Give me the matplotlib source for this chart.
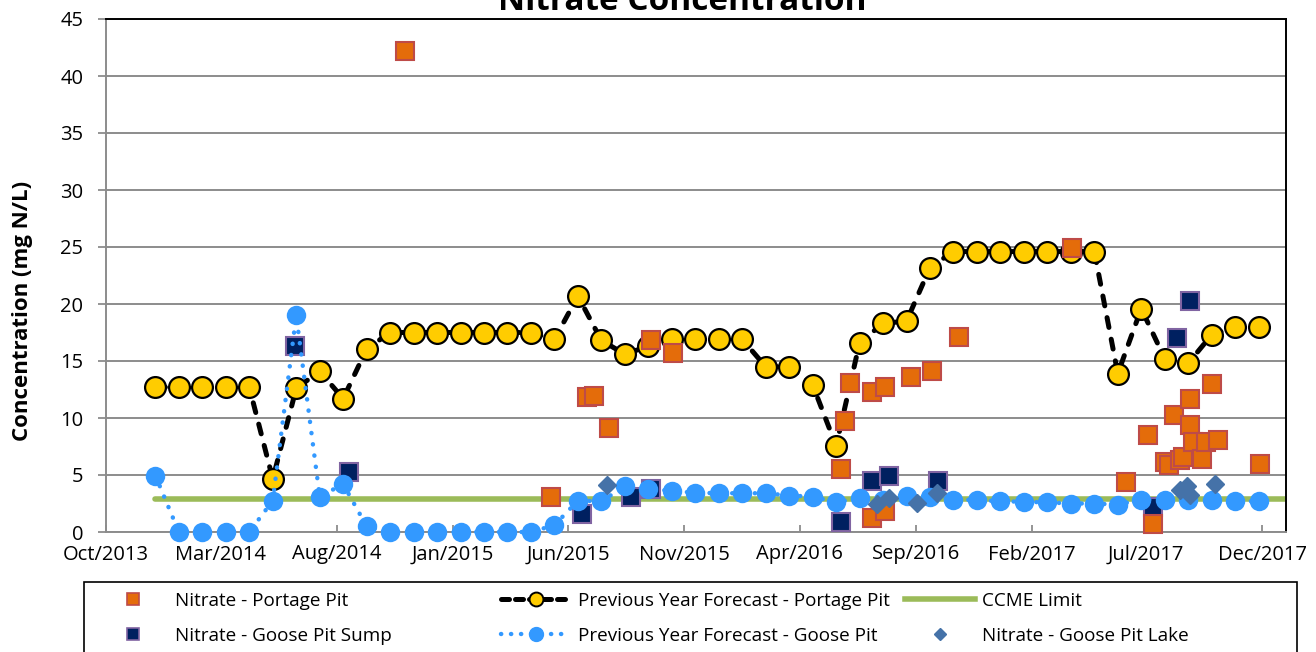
import matplotlib
matplotlib.use("Agg")
import matplotlib.pyplot as plt
import matplotlib.dates as mdates
from matplotlib.lines import Line2D
from matplotlib.patches import Rectangle
import pandas as pd

plt.rcParams['font.family'] = ['Open Sans', 'DejaVu Sans']

# previous year forecasts (evenly spaced runs)
forecast_dates = pd.date_range("2013-12-05", "2017-11-26", periods=48)
forecast_portage = [12.7, 12.7, 12.7, 12.7, 12.7, 4.65, 12.6, 14.1, 11.7, 16.05,
                    17.5, 17.5, 17.5, 17.5, 17.5, 17.5, 17.5, 16.9, 20.7, 16.8,
                    15.6, 16.3, 16.9, 16.9, 16.9, 16.9, 14.5, 14.5, 12.9, 7.55,
                    16.6, 18.3, 18.5, 23.2, 24.6, 24.6, 24.6, 24.6, 24.6, 24.6,
                    24.6, 13.9, 19.6, 15.2, 14.8, 17.3, 18.0, 18.0]
forecast_goose = [4.95, 0, 0, 0, 0, 2.75, 19.0, 3.1, 4.2, 0.5,
                  0, 0, 0, 0, 0, 0, 0, 0.6, 2.75, 2.7,
                  4.0, 3.8, 3.6, 3.45, 3.4, 3.4, 3.4, 3.2, 3.1, 2.6,
                  3.0, 2.8, 3.15, 3.1, 2.85, 2.8, 2.7, 2.65, 2.6, 2.5,
                  2.5, 2.4, 2.85, 2.8, 2.8, 2.8, 2.7, 2.7]

ccme_dates = [forecast_dates[0], pd.Timestamp("2018-01-01")]
ccme_vals = [2.9, 2.9]

portage_dates = pd.to_datetime([
    "2014-10-30", "2015-05-10", "2015-06-26", "2015-07-05", "2015-07-25", "2015-09-18",
    "2015-10-17", "2016-05-25", "2016-05-31", "2016-06-06", "2016-07-05", "2016-07-05",
    "2016-07-22", "2016-07-22", "2016-08-25", "2016-09-22", "2016-10-28", "2017-03-26",
    "2017-06-04", "2017-07-03", "2017-07-10", "2017-07-26", "2017-07-31", "2017-08-07",
    "2017-08-15", "2017-08-19", "2017-08-28", "2017-08-28", "2017-09-01", "2017-09-12",
    "2017-09-18", "2017-09-26", "2017-10-03", "2017-11-28"])
portage_vals = [42.2, 3.1, 11.8, 11.9, 9.1, 16.8,
                15.7, 5.5, 9.75, 13.05, 1.25, 12.3,
                12.7, 1.8, 13.6, 14.1, 17.1, 24.9,
                4.4, 8.5, 0.7, 6.1, 5.9, 10.3,
                6.3, 6.6, 11.7, 9.4, 7.9, 6.4,
                7.9, 13.0, 8.1, 6.0]

sump_dates = pd.to_datetime([
    "2014-06-07", "2014-08-17", "2015-06-19", "2015-08-23", "2015-09-18", "2016-05-25",
    "2016-07-05", "2016-07-27", "2016-09-30", "2017-07-10", "2017-08-10", "2017-08-28"])
sump_vals = [16.3, 5.3, 1.6, 3.1, 3.8, 0.85, 4.5, 4.9, 4.5, 2.2, 17.0, 20.3]

lake_dates = pd.to_datetime([
    "2015-07-22", "2016-07-12", "2016-07-27", "2016-09-02", "2016-09-29",
    "2017-08-15", "2017-08-24", "2017-08-28", "2017-09-29"])
lake_vals = [4.1, 2.5, 2.95, 2.55, 3.45, 3.7, 4.0, 3.25, 4.25]

tick_dates = pd.date_range("2013-10-01", "2017-12-01", freq="5MS")

ORANGE, ORANGE_EDGE = '#E46C0A', '#BE4B48'
NAVY, NAVY_EDGE = '#002060', '#8064A2'
BLUE = '#3399FF'
YELLOW = '#FFCC00'
GREEN = '#9BBB59'
LAKE = '#4572A8'
GRID = '#8C8C8C'

fig = plt.figure(figsize=(13.16, 6.52), dpi=100)
W, H = 1316, 652
ax = fig.add_axes([106 / W, 1 - 532 / H, 1180 / W, 513 / H])

ax.plot(ccme_dates, ccme_vals, color=GREEN, lw=4, solid_capstyle='round', zorder=2)
ax.plot(forecast_dates, forecast_portage, color='black', lw=3.6, dashes=(2.0, 2.4),
        dash_capstyle='round', marker='o', ms=15, mfc=YELLOW, mec='black', mew=1.6,
        zorder=3, clip_on=False)
ax.plot(sump_dates, sump_vals, ls='none', marker='s', ms=13, mfc=NAVY, mec=NAVY_EDGE,
        mew=1.5, zorder=4, clip_on=False)
ax.plot(forecast_dates, forecast_goose, color=BLUE, lw=3.2, linestyle=(0, (0.05, 2.5)),
        dash_capstyle='round', marker='o', ms=14, mfc=BLUE, mec=BLUE, mew=0,
        zorder=5, clip_on=False)
ax.plot(portage_dates, portage_vals, ls='none', marker='s', ms=13, mfc=ORANGE,
        mec=ORANGE_EDGE, mew=1.5, zorder=6, clip_on=False)
ax.plot(lake_dates, lake_vals, ls='none', marker='D', ms=9.5, mfc=LAKE, mec=LAKE,
        zorder=7, clip_on=False)

ax.set_xlim(pd.Timestamp("2013-10-01"), pd.Timestamp("2018-01-01"))
ax.set_ylim(0, 45)
ax.set_yticks(range(0, 46, 5))
ax.set_xticks(tick_dates)
ax.xaxis.set_major_formatter(mdates.DateFormatter('%b/%Y'))
ax.tick_params(axis='y', direction='out', length=5.8, width=1.3, color=GRID,
               pad=10.5, labelsize=14.5)
ax.tick_params(axis='x', direction='in', length=5, width=1.3, color=GRID,
               pad=9, labelsize=14.5)
ax.grid(axis='y', color=GRID, lw=1.4)
ax.set_axisbelow(True)
for side in ('left', 'bottom'):
    ax.spines[side].set_color(GRID)
    ax.spines[side].set_linewidth(1.4)
for side in ('top', 'right'):
    ax.spines[side].set_color('black')
    ax.spines[side].set_linewidth(1.4)

ax.set_ylabel('Concentration (mg N/L)', fontsize=16, fontweight='bold')
ax.yaxis.set_label_coords((23 - 106) / 1180, (532 - 311) / 513)
ax.yaxis.label.set_verticalalignment('center')

fig.text(682 / W, 1 - 10 / H, 'Nitrate Concentration', fontsize=24, fontweight='bold',
         ha='center', va='baseline')

# legend box along the bottom
fig.add_artist(Rectangle((84 / W, -0.05), (1297 - 84) / W, 0.05 + (652 - 582) / H,
                         transform=fig.transFigure, fill=False, ec='black', lw=1.2))

h_portage = Line2D([], [], ls='none', marker='s', ms=8.5, mfc=ORANGE, mec=ORANGE_EDGE, mew=1.2)
h_sump = Line2D([], [], ls='none', marker='s', ms=8.5, mfc=NAVY, mec=NAVY_EDGE, mew=1.2)
h_fp = Line2D([], [], color='black', lw=3.6, dashes=(1.6, 1.2), dash_capstyle='round',
              marker='o', ms=10, mfc=YELLOW, mec='black', mew=1.4)
h_fg = Line2D([], [], color=BLUE, lw=3.2, linestyle=(0, (0.05, 2.2)), dash_capstyle='round',
              marker='o', ms=10, mfc=BLUE, mec=BLUE)
h_ccme = Line2D([], [], color=GREEN, lw=4)
h_lake = Line2D([], [], ls='none', marker='D', ms=6.5, mfc=LAKE, mec=LAKE)

columns = [
    (98, [h_portage, h_sump], ['Nitrate - Portage Pit', 'Nitrate - Goose Pit Sump']),
    (501, [h_fp, h_fg], ['Previous Year Forecast - Portage Pit',
                         'Previous Year Forecast - Goose Pit']),
    (905, [h_ccme, h_lake], ['CCME Limit', 'Nitrate - Goose Pit Lake']),
]
for x0, handles, labels in columns:
    fig.legend(handles, labels, loc='upper left', bbox_to_anchor=(x0 / W, 1 - 592 / H),
               bbox_transform=fig.transFigure, frameon=False, fontsize=13.6,
               handlelength=3.7, handletextpad=0.36, borderpad=0, borderaxespad=0,
               labelspacing=0.88, numpoints=1)

fig.savefig('out.png', dpi=100)
